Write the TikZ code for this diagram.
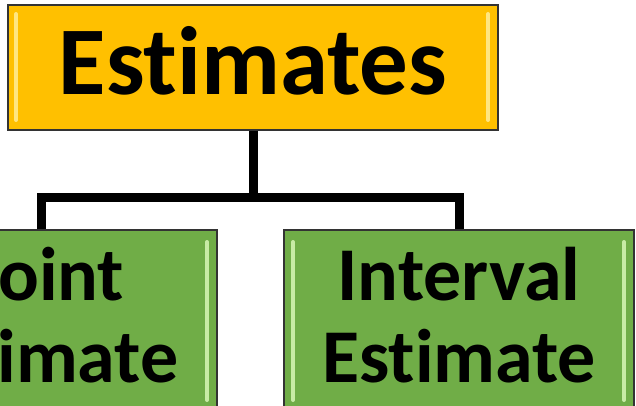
\documentclass[tikz,border=0pt]{standalone}
\usepackage{fontspec}
\setmainfont[Ligatures=NoCommon]{Carlito}
\definecolor{gold}{HTML}{FFC000}
\definecolor{goldhi}{HTML}{FFE680}
\definecolor{leaf}{HTML}{70AD47}
\definecolor{leafhi}{HTML}{C8EBA5}
\definecolor{edge}{HTML}{333333}
\tikzset{
  boxbase/.style={rectangle, draw=edge, line width=1.5pt, inner sep=0pt},
  ybox/.style={boxbase, fill=gold},
  gbox/.style={boxbase, fill=leaf},
  conn/.style={line width=9pt, black, line join=miter},
  lbl/.style={inner sep=0pt, font=\bfseries\fontsize{76}{80}\selectfont},
  toplbl/.style={inner sep=0pt, font=\bfseries\fontsize{97}{100}\selectfont},
  hi/.style={line width=4pt, line cap=round}
}
\begin{document}
\begin{tikzpicture}[x=1pt,y=-1pt]
\useasboundingbox (0,0) rectangle (636,406);
\clip (0,0) rectangle (636,406);
% boxes
\node[ybox, minimum width=490pt, minimum height=125pt] (top) at (253,67.5) {};
\node[gbox, minimum width=351pt, minimum height=200pt] (left) at (41.5,330) {};
\node[gbox, minimum width=350pt, minimum height=200pt] (right) at (459,330) {};
% bevel highlights
\draw[hi, goldhi] (16,14) -- (16,120);
\draw[hi, goldhi] (488,14) -- (488,120);
\draw[hi, leafhi] (207,242) -- (207,400);
\draw[hi, leafhi] (293,242) -- (293,400);
\draw[hi, leafhi] (624,242) -- (624,400);
% labels
\node[toplbl, anchor=base] (ttxt) at (253,95) {Estimates};
\node[lbl, anchor=base] (l1) at (41.5,300) {Point};
\node[lbl, anchor=base] (l2) at (41.5,382) {Estimate};
\node[lbl, anchor=base] (r1) at (459,300) {Interval};
\node[lbl, anchor=base] (r2) at (459,382) {Estimate};
% connectors
\coordinate (j) at (253,197);
\draw[conn] (top.south) -- (j);
\draw[conn] (left.north) |- (j) -| (right.north);
\end{tikzpicture}
\end{document}
